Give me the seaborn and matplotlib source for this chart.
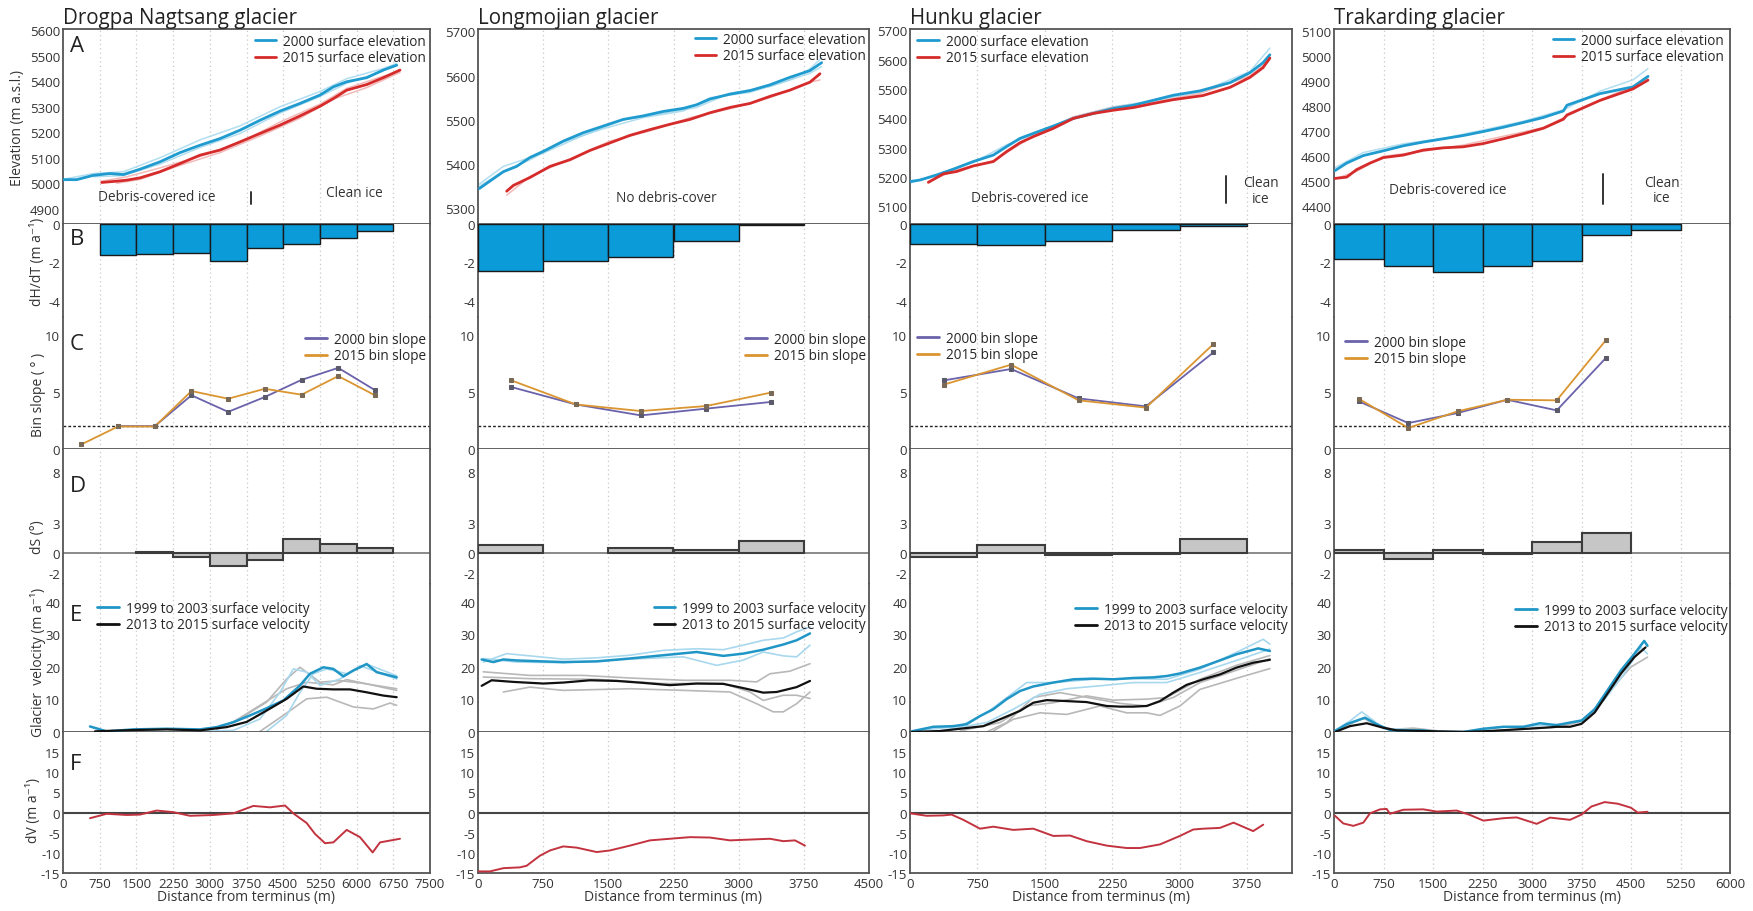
import numpy as np
import matplotlib
matplotlib.use("Agg")
import matplotlib.pyplot as plt
from matplotlib.lines import Line2D
import seaborn as sns

# ---------------------------------------------------------------- data
glaciers = ["Drogpa Nagtsang glacier", "Longmojian glacier", "Hunku glacier", "Trakarding glacier"]
x_max = [7500, 4500, 4250, 6000]
x_tick_top = [7500, 4500, 3750, 6000]

# A: surface elevation profiles (m a.s.l.)
DN_elev2000_x = [0, 279, 620, 960, 1233, 1574, 1982, 2391, 2800, 3208, 3617, 4026, 4435, 4843, 5252, 5525, 5797, 6206, 6546, 6819]
DN_elev2000 = [5014, 5014, 5031, 5038, 5034, 5055, 5084, 5120, 5149, 5175, 5208, 5247, 5283, 5313, 5346, 5378, 5398, 5414, 5444, 5463]
DN_elev2015_x = [790, 1097, 1301, 1574, 1982, 2391, 2800, 3208, 3617, 4026, 4435, 4843, 5252, 5525, 5797, 6206, 6546, 6887]
DN_elev2015 = [5003, 5008, 5012, 5021, 5045, 5077, 5110, 5130, 5162, 5195, 5228, 5264, 5302, 5332, 5365, 5387, 5414, 5444]
DN_elev2000_f1_x = [0, 620, 1233, 1982, 2800, 3617, 4435, 5252, 5797, 6546, 6819]
DN_elev2000_f1 = [5015, 5038, 5045, 5100, 5170, 5225, 5300, 5360, 5410, 5450, 5470]
DN_elev2000_f2_x = [620, 1233, 1982, 2800, 3617, 4435, 5252, 5797, 6546]
DN_elev2000_f2 = [5025, 5030, 5075, 5140, 5195, 5275, 5340, 5392, 5440]
DN_elev2015_f1_x = [790, 1301, 1982, 2800, 3617, 4435, 5252, 5797, 6546, 6887]
DN_elev2015_f1 = [5008, 5025, 5060, 5105, 5160, 5240, 5310, 5372, 5420, 5440]
DN_elev2015_f2_x = [1097, 1574, 2391, 3208, 4026, 4843, 5525, 6206, 6887]
DN_elev2015_f2 = [5000, 5015, 5070, 5120, 5185, 5255, 5330, 5375, 5435]

LM_elev2000_x = [15, 138, 292, 445, 598, 752, 982, 1212, 1442, 1672, 1903, 2133, 2363, 2516, 2670, 2900, 3130, 3360, 3590, 3820, 3955]
LM_elev2000 = [5345, 5362, 5383, 5395, 5415, 5429, 5452, 5471, 5486, 5501, 5509, 5519, 5526, 5534, 5547, 5558, 5566, 5579, 5596, 5611, 5629]
LM_elev2015_x = [330, 407, 598, 829, 1059, 1289, 1519, 1749, 1979, 2209, 2440, 2670, 2900, 3130, 3360, 3590, 3820, 3936]
LM_elev2015 = [5339, 5352, 5370, 5395, 5410, 5431, 5448, 5465, 5478, 5490, 5501, 5516, 5528, 5537, 5553, 5567, 5585, 5604]
LM_elev2000_f1_x = [15, 300, 600, 982, 1442, 1903, 2363, 2670, 3130, 3590, 3820, 3955]
LM_elev2000_f1 = [5350, 5385, 5410, 5450, 5480, 5505, 5520, 5550, 5562, 5590, 5615, 5640]
LM_elev2000_f2_x = [15, 292, 752, 1212, 1672, 2133, 2516, 2900, 3360, 3820, 3955]
LM_elev2000_f2 = [5355, 5395, 5425, 5465, 5500, 5515, 5528, 5560, 5575, 5605, 5620]
LM_elev2015_f1_x = [330, 598, 1059, 1519, 1979, 2440, 2900, 3360, 3820, 3936]
LM_elev2015_f1 = [5330, 5372, 5412, 5452, 5475, 5505, 5525, 5550, 5585, 5590]

HK_elev2000_x = [7, 111, 297, 482, 704, 927, 1075, 1224, 1372, 1594, 1817, 2039, 2262, 2484, 2707, 2929, 3226, 3560, 3782, 3927, 4004]
HK_elev2000 = [5185, 5190, 5207, 5227, 5253, 5275, 5304, 5332, 5349, 5374, 5400, 5417, 5434, 5445, 5462, 5479, 5494, 5522, 5556, 5590, 5617]
HK_elev2015_x = [204, 371, 519, 704, 927, 1075, 1224, 1372, 1594, 1817, 2039, 2262, 2484, 2707, 2929, 3259, 3560, 3782, 3927, 4004]
HK_elev2015 = [5182, 5211, 5219, 5238, 5253, 5287, 5317, 5338, 5366, 5400, 5417, 5428, 5437, 5451, 5464, 5478, 5506, 5540, 5573, 5606]
HK_elev2000_f1_x = [7, 297, 704, 1075, 1372, 1817, 2262, 2707, 3226, 3782, 4004]
HK_elev2000_f1 = [5180, 5210, 5250, 5310, 5345, 5405, 5440, 5460, 5490, 5560, 5640]
HK_elev2015_f1_x = [204, 519, 927, 1372, 1817, 2262, 2707, 3226, 3782, 4004]
HK_elev2015_f1 = [5185, 5225, 5255, 5340, 5405, 5438, 5455, 5485, 5545, 5600]

TK_elev2000_x = [15, 192, 444, 747, 1051, 1354, 1657, 1960, 2263, 2566, 2869, 3172, 3475, 3530, 4030, 4530, 4758]
TK_elev2000 = [4543, 4573, 4603, 4622, 4642, 4657, 4670, 4683, 4699, 4716, 4735, 4755, 4781, 4804, 4850, 4877, 4919]
TK_elev2015_x = [15, 192, 343, 545, 747, 1051, 1354, 1657, 1960, 2263, 2566, 2869, 3172, 3475, 3530, 4030, 4530, 4758]
TK_elev2015 = [4512, 4517, 4547, 4573, 4595, 4605, 4625, 4634, 4638, 4651, 4670, 4690, 4712, 4748, 4765, 4823, 4869, 4904]
TK_elev2000_f1_x = [15, 444, 1051, 1657, 2263, 2869, 3475, 4030, 4530, 4758]
TK_elev2000_f1 = [4555, 4615, 4650, 4672, 4705, 4740, 4785, 4860, 4905, 4950]
TK_elev2015_f1_x = [15, 343, 747, 1354, 1960, 2566, 3172, 3530, 4030, 4530, 4758]
TK_elev2015_f1 = [4510, 4540, 4600, 4620, 4645, 4680, 4715, 4760, 4825, 4880, 4915]

# B: elevation change per 750 m bin (left edges, m a-1)
DN_dhdt_left = [750, 1500, 2250, 3000, 3750, 4500, 5250, 6000]
DN_dhdt = [-1.62, -1.57, -1.52, -1.93, -1.25, -1.04, -0.72, -0.36]
LM_dhdt_left = [0, 750, 1500, 2250, 3000]
LM_dhdt = [-2.45, -1.95, -1.72, -0.90, -0.05]
HK_dhdt_left = [0, 750, 1500, 2250, 3000]
HK_dhdt = [-1.03, -1.12, -0.90, -0.29, -0.13]
TK_dhdt_left = [0, 750, 1500, 2250, 3000, 3750, 4500]
TK_dhdt = [-1.80, -2.20, -2.50, -2.20, -1.95, -0.55, -0.30]

# C: bin slope (degrees) at bin centres
DN_slope_x = [375, 1125, 1875, 2625, 3375, 4125, 4875, 5625, 6375]
DN_slope2000 = [np.nan, 2.0, 2.0, 4.7, 3.25, 4.55, 6.05, 7.1, 5.15]
DN_slope2015 = [0.4, 1.97, 1.97, 5.07, 4.4, 5.27, 4.75, 6.38, 4.7]
LM_slope_x = [375, 1125, 1875, 2625, 3375]
LM_slope2000 = [5.44, 3.9, 2.94, 3.53, 4.12]
LM_slope2015 = [6.03, 3.9, 3.32, 3.76, 4.94]
HK_slope_x = [375, 1125, 1875, 2625, 3375]
HK_slope2000 = [6.0, 7.0, 4.43, 3.73, 8.45]
HK_slope2015 = [5.63, 7.38, 4.26, 3.62, 9.18]
TK_slope_x = [375, 1125, 1875, 2625, 3375, 4125]
TK_slope2000 = [4.17, 2.27, 3.15, 4.31, 3.38, 8.0]
TK_slope2015 = [4.4, 1.84, 3.3, 4.31, 4.26, 9.56]
slope_threshold = 2.0

# D: change in bin slope (degrees)
DN_ds_left = [1500, 2250, 3000, 3750, 4500, 5250, 6000]
DN_ds = [0.1, -0.43, -1.32, -0.7, 1.39, 0.86, 0.53]
LM_ds_left = [0, 1500, 2250, 3000]
LM_ds = [0.82, 0.52, 0.26, 1.18]
HK_ds_left = [0, 750, 1500, 2250, 3000]
HK_ds = [-0.4, 0.75, -0.16, -0.07, 1.34]
TK_ds_left = [0, 750, 1500, 2250, 3000, 3750]
TK_ds = [0.26, -0.55, 0.26, -0.05, 1.08, 2.0]

# E: surface velocity (m a-1)
DN_v1999_x = [552, 892, 1437, 2119, 2800, 3140, 3481, 3822, 4162, 4503, 4843, 5047, 5320, 5525, 5729, 5934, 6206, 6410, 6819]
DN_v1999 = [1.7, 0.2, 0.8, 1.0, 0.8, 1.5, 3.0, 5.1, 7.3, 9.7, 14.3, 17.9, 19.9, 19.4, 17.1, 18.9, 20.9, 18.4, 16.8]
DN_v2013_x = [654, 1437, 2119, 2800, 3345, 3753, 4162, 4571, 4911, 5184, 5525, 5865, 6206, 6546, 6819]
DN_v2013 = [0.2, 0.6, 0.8, 0.5, 1.5, 3.1, 6.6, 10.2, 14.0, 13.3, 13.1, 13.1, 12.2, 11.2, 10.7]
DN_v1999_f1_x = [2800, 3481, 4026, 4435, 4707, 4980, 5252, 5661, 6069, 6342, 6819]
DN_v1999_f1 = [0.2, 0.5, 4.0, 12.2, 19.4, 18.4, 14.3, 16.3, 20.4, 18.9, 16.3]
DN_v1999_f2_x = [4162, 4571, 4843, 5116, 5389, 5797, 6206, 6819]
DN_v1999_f2 = [0.2, 5.1, 12.2, 17.9, 19.4, 17.9, 20.9, 17.3]
DN_v2013_f1_x = [3140, 3617, 4162, 4571, 4843, 5252, 5661, 6069, 6819]
DN_v2013_f1 = [0.8, 4.1, 9.2, 16.3, 19.9, 15.3, 15.8, 15.1, 13.3]
DN_v2013_f2_x = [4026, 4503, 4980, 5389, 5661, 5934, 6342, 6683, 6819]
DN_v2013_f2 = [0.2, 5.1, 10.2, 10.7, 9.2, 7.7, 7.1, 8.9, 8.2]
DN_v2013_f3_x = [2936, 3481, 4026, 4571, 4980, 5525, 5797, 6206, 6819]
DN_v2013_f3 = [0.5, 3.1, 8.2, 13.3, 15.3, 14.5, 16.1, 14.8, 12.8]

LM_v1999_x = [42, 176, 292, 445, 752, 982, 1366, 1749, 2133, 2516, 2823, 3053, 3283, 3514, 3667, 3821]
LM_v1999 = [22.3, 21.5, 22.3, 22.0, 21.7, 21.5, 21.7, 22.6, 23.6, 24.6, 23.4, 24.1, 25.3, 26.9, 28.2, 30.3]
LM_v2013_x = [42, 157, 407, 752, 982, 1289, 1596, 1903, 2209, 2516, 2823, 3053, 3283, 3437, 3667, 3821]
LM_v2013 = [14.2, 15.9, 15.4, 14.9, 15.2, 15.9, 15.7, 15.1, 14.4, 14.9, 14.8, 13.5, 12.1, 12.3, 13.8, 15.7]
LM_v1999_f1_x = [61, 330, 598, 982, 1366, 1749, 2133, 2516, 2823, 3053, 3283, 3514, 3667, 3821]
LM_v1999_f1 = [21.5, 24.1, 23.4, 22.4, 22.8, 23.6, 25.1, 25.6, 25.3, 26.7, 28.2, 28.9, 30.8, 32.3]
LM_v1999_f2_x = [61, 445, 982, 1749, 2363, 2746, 3053, 3283, 3514, 3667, 3821]
LM_v1999_f2 = [22.6, 21.5, 21.3, 22.4, 23.1, 20.5, 22.1, 24.6, 23.4, 23.1, 26.7]
LM_v2013_f1_x = [61, 598, 1212, 1749, 2363, 2900, 3207, 3360, 3590, 3821]
LM_v2013_f1 = [18.5, 17.4, 17.4, 16.6, 15.9, 15.9, 15.4, 17.9, 18.7, 21.0]
LM_v2013_f2_x = [292, 598, 982, 1749, 2363, 2900, 3207, 3398, 3514, 3667, 3821]
LM_v2013_f2 = [12.3, 13.8, 12.8, 13.3, 12.8, 12.3, 8.7, 6.2, 6.2, 8.7, 12.3]
LM_v2013_f3_x = [61, 598, 1366, 2133, 2823, 3130, 3283, 3514, 3667, 3821]
LM_v2013_f3 = [16.9, 16.4, 16.2, 14.9, 14.9, 12.3, 9.7, 11.3, 11.3, 10.3]

HK_v1999_x = [19, 260, 482, 630, 779, 927, 1075, 1224, 1372, 1594, 1817, 2039, 2262, 2484, 2707, 2855, 3003, 3226, 3448, 3633, 3874, 4004]
HK_v1999 = [0.2, 1.6, 1.8, 2.4, 4.9, 7.0, 10.1, 12.6, 14.0, 15.2, 16.2, 16.4, 16.2, 16.6, 16.8, 17.2, 18.0, 19.8, 22.0, 23.9, 25.7, 24.9]
HK_v2013_x = [19, 334, 556, 816, 1001, 1224, 1372, 1520, 1743, 1965, 2188, 2336, 2484, 2633, 2781, 2929, 3078, 3263, 3448, 3633, 3818, 4004]
HK_v2013 = [0.0, 0.3, 1.0, 1.8, 3.9, 6.5, 9.0, 9.8, 9.5, 9.2, 8.0, 7.8, 7.8, 8.0, 9.5, 12.1, 14.5, 16.2, 17.7, 19.8, 21.3, 22.2]
HK_v1999_f1_x = [37, 556, 853, 1149, 1298, 1594, 2039, 2484, 2855, 3226, 3633, 3930, 4004]
HK_v1999_f1 = [0.3, 1.8, 5.9, 12.1, 15.2, 15.2, 16.2, 16.4, 16.2, 19.3, 24.5, 28.5, 27.0]
HK_v1999_f2_x = [260, 853, 1149, 1446, 1743, 2113, 2484, 2855, 3226, 3633, 4004]
HK_v1999_f2 = [0.0, 2.9, 7.0, 11.6, 13.3, 14.2, 15.2, 15.2, 18.3, 22.0, 25.5]
HK_v2013_f1_x = [853, 1075, 1372, 1669, 2039, 2336, 2633, 2929, 3226, 3633, 4004]
HK_v2013_f1 = [0.0, 2.9, 10.6, 12.1, 10.3, 8.8, 8.0, 10.6, 15.2, 19.0, 22.5]
HK_v2013_f2_x = [927, 1149, 1446, 1743, 2113, 2410, 2633, 2781, 3003, 3226, 3633, 4004]
HK_v2013_f2 = [0.3, 3.9, 5.9, 5.4, 8.0, 5.9, 5.9, 5.1, 8.0, 13.1, 16.5, 19.5]
HK_v2013_f3_x = [556, 1001, 1298, 1594, 1965, 2262, 2633, 2855, 3226, 3633, 4004]
HK_v2013_f3 = [0.3, 2.9, 8.0, 9.0, 11.1, 9.8, 10.1, 10.6, 16.2, 20.5, 23.5]

TK_v1999_x = [15, 192, 470, 646, 848, 1051, 1354, 1556, 1960, 2263, 2566, 2869, 3121, 3374, 3576, 3750, 3950, 4150, 4350, 4550, 4700, 4750]
TK_v1999 = [0.3, 2.4, 4.4, 2.4, 0.6, 0.5, 0.5, 0.0, 0.0, 1.0, 1.6, 1.6, 2.7, 2.1, 2.9, 3.5, 7.0, 13.0, 19.0, 24.0, 28.0, 26.5]
TK_v2013_x = [15, 242, 495, 747, 949, 1354, 1960, 2364, 2768, 3172, 3374, 3576, 3750, 3950, 4150, 4350, 4550, 4720]
TK_v2013 = [0.0, 1.8, 2.7, 1.3, 0.5, 0.3, 0.0, 0.3, 0.8, 1.3, 1.6, 1.6, 2.5, 6.0, 12.0, 18.0, 23.0, 26.0]
TK_v1999_f1_x = [15, 250, 420, 600, 750, 1100, 1500, 2000, 2500, 3000, 3500, 3800, 4100, 4400, 4650, 4750]
TK_v1999_f1 = [0.5, 3.5, 6.2, 3.5, 1.0, 0.8, 0.2, 0.0, 1.4, 1.8, 2.5, 4.0, 10.0, 18.0, 26.0, 24.0]
TK_v2013_f1_x = [15, 300, 450, 650, 900, 1200, 1600, 2200, 2800, 3400, 3800, 4150, 4500, 4750]
TK_v2013_f1 = [0.2, 3.0, 4.2, 2.0, 0.8, 1.2, 0.3, 0.2, 0.8, 1.5, 3.5, 12.0, 20.0, 23.0]

# F: velocity change (m a-1)
DN_dv_x = [552, 892, 1301, 1574, 1914, 2255, 2595, 3072, 3481, 3890, 4230, 4537, 4707, 4980, 5150, 5354, 5525, 5797, 6069, 6328, 6478, 6887]
DN_dv = [-1.4, -0.3, -0.6, -0.5, 0.5, 0.1, -0.8, -0.6, -0.2, 1.65, 1.3, 1.75, -0.2, -2.6, -5.3, -7.6, -7.4, -4.3, -6.1, -9.9, -7.4, -6.5]
LM_dv_x = [4, 138, 292, 483, 560, 713, 829, 982, 1135, 1366, 1519, 1749, 1979, 2209, 2440, 2670, 2900, 3130, 3360, 3514, 3648, 3763]
LM_dv = [-14.6, -14.6, -13.8, -13.6, -13.2, -10.7, -9.4, -8.4, -8.7, -9.8, -9.4, -8.2, -6.9, -6.5, -6.1, -6.2, -6.9, -6.7, -6.5, -7.1, -6.9, -8.2]
HK_dv_x = [7, 185, 371, 463, 593, 779, 927, 1149, 1372, 1594, 1780, 1965, 2188, 2410, 2558, 2781, 3003, 3152, 3263, 3448, 3600, 3818, 3930]
HK_dv = [-0.2, -0.8, -0.7, -0.5, -1.8, -4.0, -3.5, -4.3, -4.0, -5.8, -5.7, -7.1, -8.2, -8.8, -8.8, -7.9, -5.8, -4.2, -4.0, -3.8, -2.5, -4.6, -3.0]
TK_dv_x = [15, 141, 293, 444, 545, 697, 798, 848, 1051, 1354, 1556, 1859, 2061, 2263, 2566, 2768, 3071, 3273, 3576, 3750, 3900, 4100, 4300, 4500, 4600, 4750]
TK_dv = [-0.8, -2.7, -3.3, -2.5, -0.2, 0.8, 0.9, -0.3, 0.7, 0.8, 0.25, 0.5, -0.6, -2.0, -1.4, -1.2, -2.8, -1.25, -1.8, -0.5, 1.5, 2.6, 2.2, 1.2, 0.0, 0.2]

# ---------------------------------------------------------------- style
sns.set_style("white")
plt.rcParams["font.family"] = ["Open Sans", "DejaVu Sans"]

C_E2000, C_E2000_F = "#1f9bcf", "#9fd6ec"
C_E2015, C_E2015_F = "#d62b2b", "#f0a8a8"
C_BAR = "#0c9bd9"
C_S2000, C_S2015 = "#6a62aa", "#da9530"
C_V1999, C_V1999_F = "#2096c6", "#a8d8ee"
C_V2013, C_V2013_F = "#111111", "#b8b8b8"
C_DV = "#c2333f"
C_DS, C_DS_EDGE = "#c6c6c6", "#3c3c3c"
C_SPINE = "#555555"
C_TXT = "#333333"

FS_TICK = 9.5
FS_LEG = 9.8
FS_NOTE = 9.8

W, H = 1753, 912
fig = plt.figure(figsize=(W / 100, H / 100), dpi=100)

col_px = [(63, 430), (478, 869), (910, 1292), (1334, 1730)]
row_px = [(30, 225), (225, 318), (318, 450), (450, 585), (585, 733), (733, 874)]


def add_ax(c, r):
    x0, x1 = col_px[c]
    y0, y1 = row_px[r]
    return fig.add_axes([x0 / W, 1 - y1 / H, (x1 - x0) / W, (y1 - y0) / H])


def px_to_axes(c, r, px, py):
    x0, x1 = col_px[c]
    y0, y1 = row_px[r]
    return ((px - x0) / (x1 - x0), (y1 - py) / (y1 - y0))


def line(ax, x, y, color, lw, alpha=1.0, z=3, **kw):
    sns.lineplot(x=np.asarray(x, float), y=np.asarray(y, float), ax=ax, color=color,
                 lw=lw, alpha=alpha, estimator=None, sort=False, legend=False, zorder=z, **kw)


def legend(ax, c, r, px, py, loc, entries):
    handles = [Line2D([0], [0], color=col, lw=2) for col, _ in entries]
    labels = [lab for _, lab in entries]
    ax.legend(handles, labels, loc=loc, bbox_to_anchor=px_to_axes(c, r, px, py),
              frameon=False, fontsize=FS_LEG, handlelength=1.6, handletextpad=0.5,
              labelspacing=0.1, borderpad=0, borderaxespad=0)


elev = [
    (DN_elev2000_x, DN_elev2000, DN_elev2015_x, DN_elev2015,
     [(DN_elev2000_f1_x, DN_elev2000_f1), (DN_elev2000_f2_x, DN_elev2000_f2)],
     [(DN_elev2015_f1_x, DN_elev2015_f1), (DN_elev2015_f2_x, DN_elev2015_f2)]),
    (LM_elev2000_x, LM_elev2000, LM_elev2015_x, LM_elev2015,
     [(LM_elev2000_f1_x, LM_elev2000_f1), (LM_elev2000_f2_x, LM_elev2000_f2)],
     [(LM_elev2015_f1_x, LM_elev2015_f1)]),
    (HK_elev2000_x, HK_elev2000, HK_elev2015_x, HK_elev2015,
     [(HK_elev2000_f1_x, HK_elev2000_f1)], [(HK_elev2015_f1_x, HK_elev2015_f1)]),
    (TK_elev2000_x, TK_elev2000, TK_elev2015_x, TK_elev2015,
     [(TK_elev2000_f1_x, TK_elev2000_f1)], [(TK_elev2015_f1_x, TK_elev2015_f1)]),
]
elev_ylim = [(4840, 5605), (5265, 5705), (5040, 5705), (4330, 5108)]
elev_ticks = [np.arange(4900, 5601, 100), np.arange(5300, 5701, 100),
              np.arange(5100, 5701, 100), np.arange(4400, 5101, 100)]
dhdt = [(DN_dhdt_left, DN_dhdt), (LM_dhdt_left, LM_dhdt), (HK_dhdt_left, HK_dhdt), (TK_dhdt_left, TK_dhdt)]
slopes = [(DN_slope_x, DN_slope2000, DN_slope2015), (LM_slope_x, LM_slope2000, LM_slope2015),
          (HK_slope_x, HK_slope2000, HK_slope2015), (TK_slope_x, TK_slope2000, TK_slope2015)]
dslope = [(DN_ds_left, DN_ds), (LM_ds_left, LM_ds), (HK_ds_left, HK_ds), (TK_ds_left, TK_ds)]
vel = [
    (DN_v1999_x, DN_v1999, DN_v2013_x, DN_v2013,
     [(DN_v1999_f1_x, DN_v1999_f1), (DN_v1999_f2_x, DN_v1999_f2)],
     [(DN_v2013_f1_x, DN_v2013_f1), (DN_v2013_f2_x, DN_v2013_f2), (DN_v2013_f3_x, DN_v2013_f3)]),
    (LM_v1999_x, LM_v1999, LM_v2013_x, LM_v2013,
     [(LM_v1999_f1_x, LM_v1999_f1), (LM_v1999_f2_x, LM_v1999_f2)],
     [(LM_v2013_f1_x, LM_v2013_f1), (LM_v2013_f2_x, LM_v2013_f2), (LM_v2013_f3_x, LM_v2013_f3)]),
    (HK_v1999_x, HK_v1999, HK_v2013_x, HK_v2013,
     [(HK_v1999_f1_x, HK_v1999_f1), (HK_v1999_f2_x, HK_v1999_f2)],
     [(HK_v2013_f1_x, HK_v2013_f1), (HK_v2013_f2_x, HK_v2013_f2), (HK_v2013_f3_x, HK_v2013_f3)]),
    (TK_v1999_x, TK_v1999, TK_v2013_x, TK_v2013,
     [(TK_v1999_f1_x, TK_v1999_f1)], [(TK_v2013_f1_x, TK_v2013_f1)]),
]
dvel = [(DN_dv_x, DN_dv), (LM_dv_x, LM_dv), (HK_dv_x, HK_dv), (TK_dv_x, TK_dv)]

row_ylim = [None, (-4.85, 0), (0, 11.55), (-3.07, 10.3), (0, 45.5), (-15, 20)]
row_ticks = [None, [0, -2, -4], [0, 5, 10], [8, 3, 0, -2], [0, 10, 20, 30, 40],
             [-15, -10, -5, 0, 5, 10, 15]]

# zone annotations in panel A: (label, x, y), divider (x, y0, y1)
zone_text = [
    [("Debris-covered ice", 1922, 4946), ("Clean ice", 5950, 4962)],
    [("No debris-cover", 2163, 5324)],
    [("Debris-covered ice", 1335, 5129), ("Clean\nice", 3904, 5154)],
    [("Debris-covered ice", 1727, 4466), ("Clean\nice", 4970, 4466)],
]
zone_divider = [(3850, 4918, 4966), None, (3515, 5112, 5204), (4076, 4410, 4529)]

elev_leg = [("upper right", 426, 35), ("upper right", 866, 33), ("upper left", 917, 35), ("upper right", 1724, 34)]
slope_leg = [("upper right", 426, 333), ("upper right", 866, 333), ("upper left", 917, 332), ("upper left", 1345, 336)]
vel_leg = [("upper left", 97, 602), ("upper right", 866, 602), ("upper left", 1075, 603), ("upper left", 1515, 604)]

for c in range(4):
    xm = x_max[c]
    grid_x = np.arange(750, xm - 1, 750)
    axes = [add_ax(c, r) for r in range(6)]
    for r, ax in enumerate(axes):
        ax.set_xlim(0, xm)
        for gx in grid_x:
            ax.axvline(gx, color="#c8c8c8", lw=0.9, ls=(0, (1, 2.5)), zorder=0)
        for side in ["left", "right", "top", "bottom"]:
            ax.spines[side].set_color(C_SPINE)
            ax.spines[side].set_linewidth(1.3)
        ax.spines["top"].set_visible(r == 0)
        ax.spines["bottom"].set_visible(r in (0, 2, 4, 5))
        ax.tick_params(length=0, labelsize=FS_TICK, colors=C_TXT, pad=2)
        ax.set_xticks(np.arange(0, x_tick_top[c] + 1, 750))
        if r < 5:
            ax.set_xticklabels([])
        if r > 0:
            ax.set_ylim(*row_ylim[r])
            ax.set_yticks(row_ticks[r])
            ax.set_yticklabels([str(t) for t in row_ticks[r]])
        ax.set_xlabel("")
        ax.set_ylabel("")

    # A: elevation
    ax = axes[0]
    e2000x, e2000, e2015x, e2015, f2000, f2015 = elev[c]
    for fx, fy in f2000:
        line(ax, fx, fy, C_E2000_F, 1.1, alpha=0.8, z=2)
    for fx, fy in f2015:
        line(ax, fx, fy, C_E2015_F, 1.1, alpha=0.8, z=2)
    line(ax, e2000x, e2000, C_E2000, 2.0)
    line(ax, e2015x, e2015, C_E2015, 2.0)
    ax.set_ylim(*elev_ylim[c])
    ax.set_yticks(elev_ticks[c])
    ax.set_yticklabels([str(t) for t in elev_ticks[c]])
    for txt, tx, ty in zone_text[c]:
        ax.text(tx, ty, txt, ha="center", va="center", fontsize=FS_NOTE, color=C_TXT,
                linespacing=1.05)
    if zone_divider[c] is not None:
        dx, dy0, dy1 = zone_divider[c]
        ax.plot([dx, dx], [dy0, dy1], color="#333333", lw=1.4)
    loc, lx, ly = elev_leg[c]
    legend(ax, c, 0, lx, ly, loc, [(C_E2000, "2000 surface elevation"), (C_E2015, "2015 surface elevation")])

    # B: dH/dT bars
    ax = axes[1]
    left, vals = dhdt[c]
    ax.bar(left, vals, width=750, align="edge", color=C_BAR, edgecolor="#1a1a1a", lw=1.0, zorder=3)

    # C: bin slope
    ax = axes[2]
    sx, s2000, s2015 = slopes[c]
    ax.axhline(slope_threshold, color="#222222", lw=1.0, ls=(0, (2, 1.5)), zorder=2)
    line(ax, sx, s2000, C_S2000, 1.3, marker="s", markersize=3.5,
         markerfacecolor="#5a5a6a", markeredgecolor="#5a5a6a")
    line(ax, sx, s2015, C_S2015, 1.3, marker="s", markersize=3.5,
         markerfacecolor="#7a6a55", markeredgecolor="#7a6a55")
    loc, lx, ly = slope_leg[c]
    legend(ax, c, 2, lx, ly, loc, [(C_S2000, "2000 bin slope"), (C_S2015, "2015 bin slope")])

    # D: dS bars
    ax = axes[3]
    ax.axhline(0, color="#777777", lw=1.2, zorder=2)
    left, vals = dslope[c]
    ax.bar(left, vals, width=750, align="edge", color=C_DS, edgecolor=C_DS_EDGE, lw=1.5, zorder=3)

    # E: velocity
    ax = axes[4]
    v1x, v1, v2x, v2, f1999, f2013 = vel[c]
    for fx, fy in f2013:
        line(ax, fx, fy, C_V2013_F, 1.2, z=2)
    for fx, fy in f1999:
        line(ax, fx, fy, C_V1999_F, 1.2, z=2)
    line(ax, v1x, v1, C_V1999, 1.8)
    line(ax, v2x, v2, C_V2013, 1.6)
    loc, lx, ly = vel_leg[c]
    legend(ax, c, 4, lx, ly, loc, [(C_V1999, "1999 to 2003 surface velocity"),
                                  (C_V2013, "2013 to 2015 surface velocity")])

    # F: velocity change
    ax = axes[5]
    ax.axhline(0, color="#444444", lw=1.5, zorder=2)
    dx, dv = dvel[c]
    line(ax, dx, dv, C_DV, 1.4)
    ax.set_xticklabels([str(t) for t in np.arange(0, x_tick_top[c] + 1, 750)])
    ax.tick_params(axis="x", labelsize=FS_TICK, pad=3)

    # column title and x label
    x0, x1 = col_px[c]
    fig.text(x0 / W, 1 - 24 / H, glaciers[c], fontsize=14.8, color="#222222", ha="left", va="baseline")
    fig.text((x0 + x1) / 2 / W, 1 - 898 / H, "Distance from terminus (m)", fontsize=10,
             color=C_TXT, ha="center", va="center")

# panel letters
for letter, py in zip("ABCDEF", [46, 240, 345, 487, 616, 765]):
    fig.text(70 / W, 1 - py / H, letter, fontsize=16, color="#222222", ha="left", va="center")

# y-axis labels of the first column
ylabels = [
    ("Elevation (m a.s.l.)", 18, 128),
    ("dH/dT (m a\u207b\u00b9)", 37, 262),
    ("Bin slope ( \u00b0 )", 38, 395),
    ("dS (\u00b0)", 38, 537),
    ("Glacier  velocity (m a\u207b\u00b9)", 38, 662),
    ("dV (m a\u207b\u00b9)", 33, 811),
]
for txt, px, py in ylabels:
    fig.text(px / W, 1 - py / H, txt, rotation=90, fontsize=10, color=C_TXT, ha="center", va="center")

fig.savefig("out.png", dpi=100, facecolor="white")
